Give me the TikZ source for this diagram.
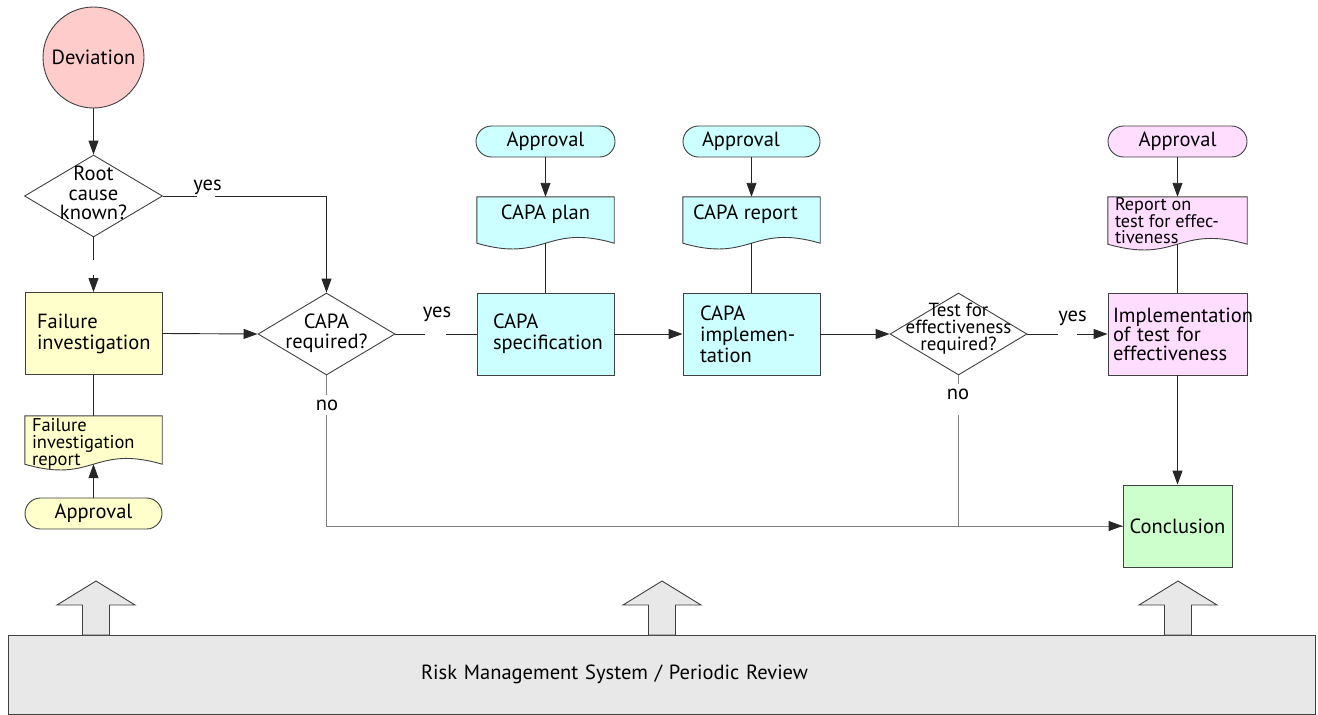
\documentclass[tikz,border=0pt]{standalone}
\usepackage{fontspec}
\setmainfont{PT Sans}
\usetikzlibrary{shapes.geometric,arrows.meta,backgrounds,calc}
\definecolor{devpink}{HTML}{FFCCCC}
\definecolor{yel}{HTML}{FFFFCC}
\definecolor{cyn}{HTML}{CCFFFF}
\definecolor{mag}{HTML}{FFDDFF}
\definecolor{grn}{HTML}{CCFFCC}
\definecolor{gry}{HTML}{E8E8E8}
\hyphenpenalty=10000
\newcommand\docoutline[2]{%
  \path[draw=black!75, line width=0.9pt, fill=#2] (#1.north west) -- (#1.north east) -- (#1.south east)
    .. controls ($(#1.south)+(0,-20)$) and ($(#1.south)+(0,20)$) .. (#1.south west) -- cycle;}
\begin{document}
\begin{tikzpicture}[x=1pt,y=-1pt,
  font=\fontsize{20.5}{21}\selectfont,
  outl/.style={draw=black!75, line width=0.9pt},
  procbox/.style={outl, rectangle, minimum width=137pt, minimum height=82pt, inner ysep=0pt, align=left},
  docbox/.style={rectangle, inner sep=0pt, minimum width=137pt},
  termbox/.style={outl, rectangle, rounded corners=15.5pt, minimum height=31pt, minimum width=137pt, inner sep=0pt},
  decbox/.style={outl, diamond, minimum width=137pt, minimum height=82pt, inner sep=0pt},
  conn/.style={draw=black!85, line width=0.9pt},
  arr/.style={conn, -{Triangle[length=14pt,width=10pt]}},
  noline/.style={draw=black!50, line width=1pt},
  lbl/.style={inner sep=0pt},
]
\useasboundingbox (0,0) rectangle (1318,715);

% left column
\node[outl, circle, fill=devpink, minimum size=101pt, inner sep=0pt] (dev) at (93.5,57.5) {Deviation};
\node[decbox, minimum width=138pt, label={[name=rct, align=center, font=\fontsize{20.5}{19.5}\selectfont, yshift=3pt]center:Root\\cause\\known?}] (rc) at (93.5,196) {};
\node[procbox, fill=yel, text width=113pt, inner xsep=12pt] (fi) at (93.5,333.5) {Failure\\investigation};
\node[docbox, minimum height=48pt, label={[name=firt, anchor=north west, align=left, inner sep=0pt, font=\fontsize{18.5}{17}\selectfont, xshift=7pt, yshift=-2pt]north west:Failure\\investigation\\report}] (fir) at (93.5,440) {};
\node[termbox, fill=yel] (ap1) at (93.5,513.5) {Approval};

% CAPA required
\node[decbox, label={[name=crt, align=center, font=\fontsize{20.5}{19.5}\selectfont, yshift=1pt]center:CAPA\\required?}] (cr) at (326.5,334) {};

% CAPA specification column
\node[termbox, fill=cyn, minimum width=139pt] (ap2) at (545.5,141.5) {Approval};
\node[docbox, minimum height=46pt, label={[name=plant, anchor=north, inner sep=0pt, yshift=-8pt]north:CAPA plan}] (plan) at (545.5,220) {};
\node[procbox, fill=cyn, text width=105pt, inner xsep=16pt] (spec) at (545.5,334) {CAPA\\specification};

% CAPA implementation column
\node[termbox, fill=cyn, text width=99pt, align=left, inner xsep=19pt] (ap3) at (751.5,141.5) {Approval};
\node[docbox, minimum height=46pt, label={[name=rept, anchor=north west, inner sep=0pt, xshift=10pt, yshift=-8pt]north west:CAPA report}] (rep) at (751.5,220) {};
\node[procbox, fill=cyn, text width=103pt, inner xsep=17pt] (impl) at (751.5,334) {CAPA\\implemen-\\tation};

% test decision
\node[decbox, label={[name=testt, align=center, font=\fontsize{19}{17}\selectfont, yshift=5pt]center:Test for\\effectiveness\\required?}] (test) at (958.5,334) {};

% test column
\node[termbox, fill=mag, minimum width=139pt] (ap4) at (1177.5,141.5) {Approval};
\node[docbox, minimum width=139pt, minimum height=47pt, label={[name=trept, anchor=north west, align=left, inner sep=0pt, font=\fontsize{18.2}{16.5}\selectfont, xshift=7pt, yshift=-1pt]north west:Report on\\test for effec-\\tiveness}] (trep) at (1177.5,220.5) {};
\node[procbox, fill=mag, minimum width=139pt, text width=129pt, inner xsep=5pt, font=\fontsize{20.5}{18.5}\selectfont] (timpl) at (1177.5,334) {Implementation\\of test for\\effectiveness};
\node[outl, rectangle, fill=grn, minimum width=109pt, minimum height=82pt] (conc) at (1177.5,526) {Conclusion};

% bottom system box
\node[outl, rectangle, fill=gry, minimum width=1307pt, minimum height=79pt, text width=481pt, inner xsep=413pt, align=left] (rms) at (661.5,674.5) {Risk Management System / Periodic Review};

\begin{scope}[on background layer]
  \docoutline{fir}{yel}
  \docoutline{plan}{cyn}
  \docoutline{rep}{cyn}
  \docoutline{trep}{mag}
\end{scope}

% connectors
\draw[arr] (dev) -- (rc);
\draw[arr, dash pattern=on 23pt off 15pt on 200pt] (rc.south) -- (fi.north);
\draw[arr] (fi.east) -- (cr.west);
\draw[conn] (fi.south) -- (fir.north);
\draw[arr] (ap1.north) -- (fir.south);
\draw[arr, dash pattern=on 34pt off 18pt on 400pt] (rc.east) -| (cr.north);
\draw[conn, dash pattern=on 30pt off 21pt on 200pt] (cr.east) -- (spec.west);
\draw[arr] (ap2.south) -- (plan.north);
\draw[conn] (plan.south) -- (spec.north);
\draw[arr] (spec.east) -- (impl.west);
\draw[arr] (ap3.south) -- (rep.north);
\draw[conn] (rep.south) -- (impl.north);
\draw[arr] (impl.east) -- (test.west);
\draw[arr, dash pattern=on 31pt off 19pt on 200pt] (test.east) -- (timpl.west);
\draw[arr] (ap4.south) -- (trep.north);
\draw[conn] (trep.south) -- (timpl.north);
\draw[arr] (timpl.south) -- (conc.north);
\draw[noline, dash pattern=on 20pt off 20pt on 2000pt] (cr.south) |- (conc.west);
\draw[noline, -{Triangle[length=14pt,width=10pt,color=black!85]}, dash pattern=on 9pt off 31pt on 2000pt] (test.south) |- (conc.west);

% branch labels
\node[lbl] (yes1) at (207.5,187) {yes};
\node[lbl] (yes2) at (437,314) {yes};
\node[lbl] (yes3) at (1072.5,318) {yes};
\node[lbl] (no1) at (327,405) {no};
\node[lbl] (no2) at (958,394) {no};

% block arrows from the bottom box
\foreach \cx in {96,662,1178}
  \draw[outl, fill=gry] (\cx,581) -- (\cx+39,605) -- (\cx+13.5,605) -- (\cx+13.5,635)
     -- (\cx-13.5,635) -- (\cx-13.5,605) -- (\cx-39,605) -- cycle;
\end{tikzpicture}
\end{document}
